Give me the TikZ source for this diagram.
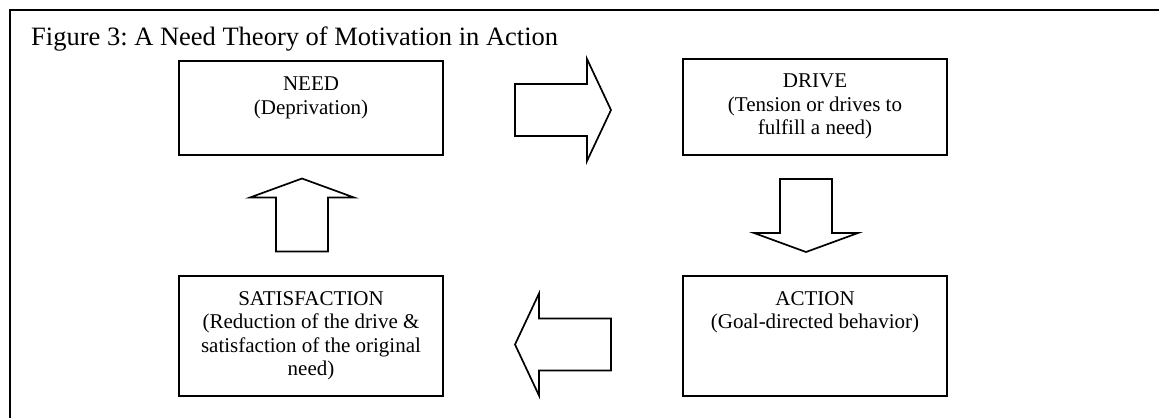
\documentclass[tikz,border=0pt]{standalone}
\usepackage{fontspec}
\setmainfont{Liberation Serif}
\frenchspacing
\begin{document}
\begin{tikzpicture}[x=1pt,y=-1pt,
  frame/.style={line width=2.4pt},
  stagebox/.style={draw, line width=2pt, minimum width=264pt, inner sep=0pt},
  stagetext/.style={anchor=north, inner sep=0pt, align=center,
    font=\fontsize{21}{23.5}\selectfont},
  arrowline/.style={draw, line width=1.7pt, line join=miter, fill=white},
  pics/harrow/.style={code={
    \path[arrowline] (-48,-26) -- (24,-26) -- (24,-51) -- (48,0)
      -- (24,51) -- (24,26) -- (-48,26) -- cycle;}},
  pics/varrow/.style={code={
    \path[arrowline] (-36.5,-26) -- (17.5,-26) -- (17.5,-52) -- (36.5,0)
      -- (17.5,52) -- (17.5,26) -- (-36.5,26) -- cycle;}}]
\useasboundingbox (0,0) rectangle (1159,418);

% open frame: top and left rules
\coordinate (fbl) at (10,418);
\coordinate (ftl) at (10,10);
\coordinate (ftr) at (1159,10);
\draw[frame] (fbl) -- (ftl) -- (ftr);

\node[anchor=base west, inner sep=0pt, font=\fontsize{26.5}{30}\selectfont]
  (title) at (31,45) {Figure 3: A Need Theory of Motivation in Action};

% the four stages
\node[stagebox, minimum height=94pt]  (need)   at (311,108) {};
\node[stagebox, minimum height=96pt]  (drive)  at (815,107) {};
\node[stagebox, minimum height=120pt] (action) at (815,336) {};
\node[stagebox, minimum height=120pt] (satis)  at (311,336) {};

\node[stagetext] (needtxt)   at ([yshift=-17pt]need.north)
  {NEED\\(Deprivation)};
\node[stagetext] (drivetxt)  at ([yshift=-16pt]drive.north)
  {DRIVE\\(Tension or drives to\\fulfill a need)};
\node[stagetext] (actiontxt) at ([yshift=-16pt]action.north)
  {ACTION\\(Goal-directed behavior)};
\node[stagetext] (satistxt)  at ([yshift=-16pt]satis.north)
  {SATISFACTION\\(Reduction of the drive \&\\satisfaction of the original\\need)};

% block arrows of the cycle
\pic at (563,110) {harrow};
\pic[rotate=-90] at (806,215.5) {varrow};
\pic[rotate=180] at (563,344.5) {harrow};
\pic[rotate=90] at (302,215) {varrow};
\end{tikzpicture}
\end{document}
